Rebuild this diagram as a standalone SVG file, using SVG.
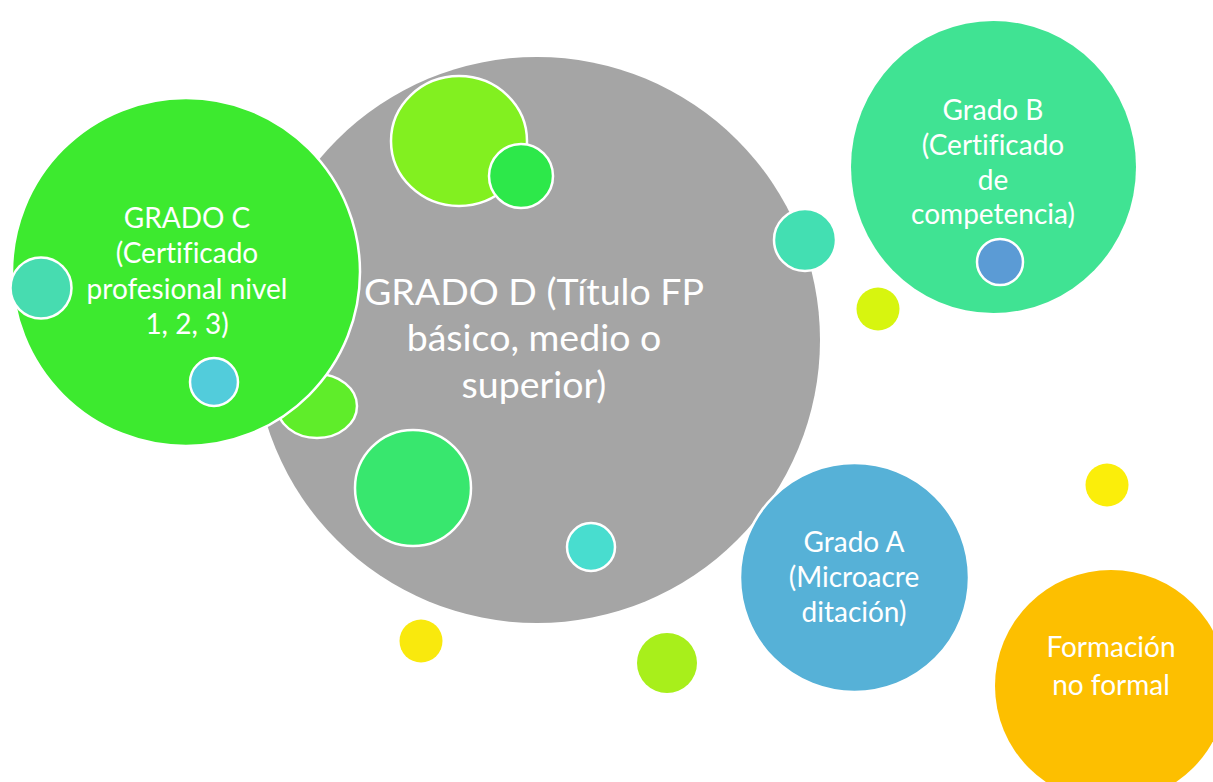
<svg xmlns="http://www.w3.org/2000/svg" width="1213" height="782" viewBox="0 0 1213 782">
<style>
.b{stroke:#ffffff;stroke-width:2.5}
.t{font-family:Lato,"Open Sans","Liberation Sans",sans-serif;fill:#ffffff;text-anchor:middle;font-size:28px;font-variant-ligatures:none}
.big{font-size:37.5px}
</style>
<rect width="1213" height="782" fill="#ffffff"/>
<g id="node-d">
<circle cx="537" cy="340" r="283" fill="#a5a5a5"/>
</g>
<g id="deco-1"><ellipse cx="317" cy="406" rx="40" ry="32" fill="#5fed2a" class="b"/></g>
<g id="node-c">
<circle cx="186" cy="272" r="174" fill="#3dea2f" class="b"/>
<text class="t" x="187" y="228">GRADO C</text>
<text class="t" x="187" y="263">(Certificado</text>
<text class="t" x="187" y="299">profesional nivel</text>
<text class="t" x="187" y="334">1, 2, 3)</text>
</g>
<g id="deco-2"><circle cx="41" cy="288" r="30.5" fill="#47dcb0" class="b"/></g>
<g id="deco-3"><circle cx="214" cy="382" r="24" fill="#52ccdb" class="b"/></g>
<g id="deco-4"><ellipse cx="459" cy="141" rx="68" ry="65" fill="#82f020" class="b"/></g>
<g id="deco-5"><circle cx="521" cy="176" r="32" fill="#2de84a" class="b"/></g>
<g id="deco-6"><circle cx="805" cy="240" r="31" fill="#43dfb2" class="b"/></g>
<g id="deco-7"><circle cx="413" cy="488" r="58" fill="#38e76e" class="b"/></g>
<g id="deco-8"><circle cx="591" cy="547" r="24" fill="#48ddcf" class="b"/></g>
<g id="node-d-label">
<text class="t big" x="534" y="305">GRADO D (Título FP</text>
<text class="t big" x="534" y="351">básico, medio o</text>
<text class="t big" x="534" y="398">superior)</text>
</g>
<g id="node-a">
<circle cx="854.5" cy="577.5" r="114.5" fill="#56b1d7" class="b"/>
<text class="t" x="854" y="552">Grado A</text>
<text class="t" x="854" y="587">(Microacre</text>
<text class="t" x="854" y="622">ditación)</text>
</g>
<g id="node-b">
<ellipse cx="993.5" cy="167" rx="142.5" ry="146" fill="#40e393"/>
<text class="t" x="993" y="120">Grado B</text>
<text class="t" x="993" y="155">(Certificado</text>
<text class="t" x="993" y="190">de</text>
<text class="t" x="993" y="224">competencia)</text>
</g>
<g id="deco-9"><circle cx="1000" cy="262" r="23" fill="#5b9bd5" class="b"/></g>
<g id="deco-10"><circle cx="878" cy="309" r="21.5" fill="#d7f50f"/></g>
<g id="deco-11"><circle cx="1107" cy="485" r="21.5" fill="#fbee0a"/></g>
<g id="deco-12"><circle cx="421" cy="641" r="21.5" fill="#f9e90d"/></g>
<g id="deco-13"><circle cx="667" cy="663" r="30" fill="#a8ef1b"/></g>
<g id="node-formacion">
<circle cx="1111" cy="686" r="116" fill="#fdbf00"/>
<text class="t" x="1111" y="657">Formación</text>
<text class="t" x="1111" y="695">no formal</text>
</g>
<g id="connectors"></g>
</svg>
